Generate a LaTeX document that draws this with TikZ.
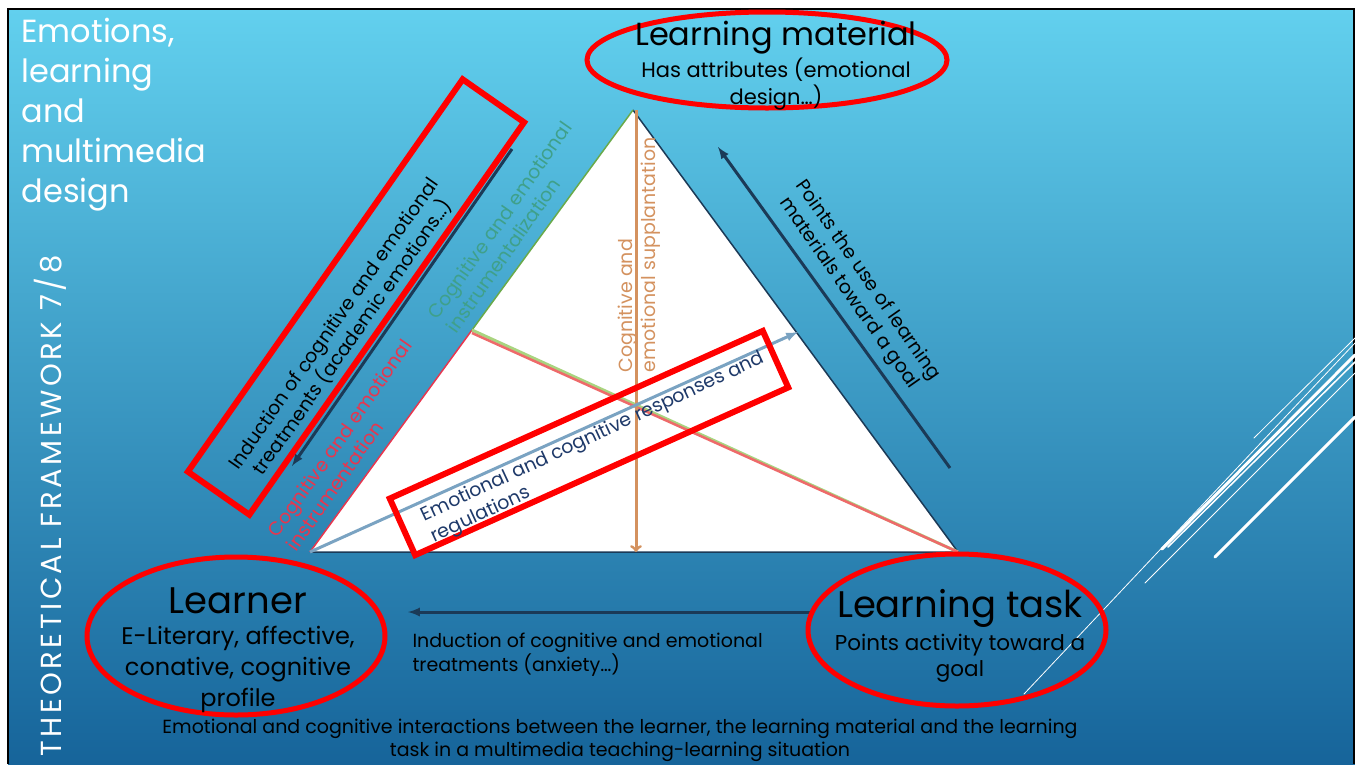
\documentclass[tikz,border=0pt]{standalone}
\usepackage{fontspec}
\setmainfont{Poppins}
\definecolor{skytop}{HTML}{62D0EE}
\definecolor{skybot}{HTML}{16649A}
\definecolor{navy}{HTML}{1B3A57}
\definecolor{supp}{HTML}{D4925F}
\definecolor{instr}{HTML}{E8364E}
\definecolor{instz}{HTML}{3FA08A}
\definecolor{resp}{HTML}{7AA3C2}
\definecolor{respt}{HTML}{1F3A6A}
\definecolor{lgreen}{HTML}{A9D47F}
\definecolor{lred}{HTML}{EE6A6A}
\definecolor{edgegreen}{HTML}{6AAA4A}

\begin{document}
\begin{tikzpicture}[x=1pt,y=-1pt,
  ring/.style={draw=red, line width=5pt},
  frame/.style={draw=red, line width=6pt, inner sep=0pt},
  darrow/.style={-latex, navy, line width=3pt},
  deco/.style={white, line cap=round},
  big/.style={font=\fontsize{37}{40}\selectfont},
  sub/.style={align=center},
  small/.style={font=\fontsize{19}{23}\selectfont}]
		\useasboundingbox (0,0) rectangle (1355,764);
		\fill[white] (0,0) rectangle (1355,764);
		\shade[top color=skytop, bottom color=skybot] (8,9) rectangle (1355,764);
		\draw[black, line width=2pt] (8,764)--(8,9)--(1354,9)--(1354,764);
		% decorative strokes
		\draw[deco, line width=0.8pt] (1254,438)--(1355,338);
		\draw[deco, line width=0.8pt] (1024,694)--(1355,343);
		\draw[deco, line width=3pt] (1162,549)--(1355,355);
		\draw[deco, line width=1.5pt] (1168,547)--(1355,362);
		\draw[deco, line width=1pt] (1145,583)--(1355,373);
		\draw[deco, line width=3pt] (1215,557)--(1355,417);
		% triangle
		\coordinate (top) at (633,110);
		\coordinate (bl) at (310,552);
		\coordinate (br) at (958,552);
		\coordinate (split) at (472,330);
		\coordinate (foot) at (636,552);
		\fill[white] (top)--(bl)--(br)--cycle;
		\draw[navy, line width=1.5pt] (top)--(br)--(bl);
		\draw[edgegreen, line width=1.5pt] (top)--(split);
		\draw[instr, line width=1.5pt] (split)--(bl);
		\draw[lgreen, line width=3pt] (split)--(br);
		\draw[lred, line width=2.5pt] ([yshift=-3pt]split)--(br);
		\draw[->, supp, line width=3pt] ([xshift=3pt]top)--(foot);
		\coordinate (resptip) at (798,332);
		\draw[-latex, resp, line width=3pt] (bl)--(resptip);
		% side arrows
		\coordinate (la1) at (512,149);
		\coordinate (la2) at (292,466);
		\draw[darrow] (la1)--(la2);
		\coordinate (ra1) at (950,468);
		\coordinate (ra2) at (718,147);
		\draw[darrow] (ra1)--(ra2);
		\coordinate (ba1) at (810,612);
		\coordinate (ba2) at (408,612);
		\draw[darrow] (ba1)--(ba2);
		% red marks
		\draw[ring] (767,60) ellipse [x radius=180, y radius=48];
		\draw[ring] (236,636) ellipse [x radius=149, y radius=79];
		\draw[ring] (957,630) ellipse [x radius=149, y radius=76];
		\node[frame, rotate=55, minimum width=479pt, minimum height=75pt] (boxind) at (356,297) {};
		\node[frame, rotate=24.2, minimum width=409pt, minimum height=62pt] (boxresp) at (589,443) {};
		% labels
		\node[white, anchor=north west, align=left, font=\fontsize{32}{40}\selectfont] (title) at (18,15) {Emotions,\\learning\\and\\multimedia\\design};
		\node[white, rotate=90, font=\fontsize{29}{30}\selectfont\addfontfeature{LetterSpace=12}] (side) at (50,506) {THEORETICAL FRAMEWORK 7/8};
		\node[big, font=\fontsize{32}{36}\selectfont] (lmat) at (776,38) {Learning material};
		\node[sub, font=\fontsize{21}{27}\selectfont] (lmatsub) at (776,84) {Has attributes (emotional\\design…)};
		\node[big] (lrn) at (238,601) {Learner};
		\node[sub, font=\fontsize{24}{31}\selectfont] (lrnsub) at (238,669) {E-Literary, affective,\\conative, cognitive\\profile};
		\node[big] (task) at (960,608) {Learning task};
		\node[sub, font=\fontsize{21.5}{26}\selectfont] (tasksub) at (960,658) {Points activity toward a\\goal};
		\node[small, align=center, rotate=55] (indtxt) at (344,331) {Induction of cognitive and emotional\\treatments (academic emotions…)};
		\node[small, align=left, rotate=55, instr] (instrtxt) at (349,445) {Cognitive and emotional\\instrumentation};
		\node[small, align=left, rotate=55, instz] (instztxt) at (509,227) {Cognitive and emotional\\instrumentalization};
		\node[small, align=left, rotate=90, supp] (supptxt) at (639,255) {Cognitive and\\emotional supplantation};
		\node[small, align=center, rotate=-55] (goaltxt) at (858,287) {Points the use of learning\\materials toward a goal};
		\node[small, align=left, rotate=25, respt] (resptxt) at (598,448) {Emotional and cognitive responses and\\regulations};
		\node[small, align=left, anchor=west, font=\fontsize{19}{24}\selectfont] (anx) at (409,655) {Induction of cognitive and emotional\\treatments (anxiety…)};
		\node[small, align=center] (cap) at (620,740) {Emotional and cognitive interactions between the learner, the learning material and the learning\\task in a multimedia teaching-learning situation};
\end{tikzpicture}
\end{document}
